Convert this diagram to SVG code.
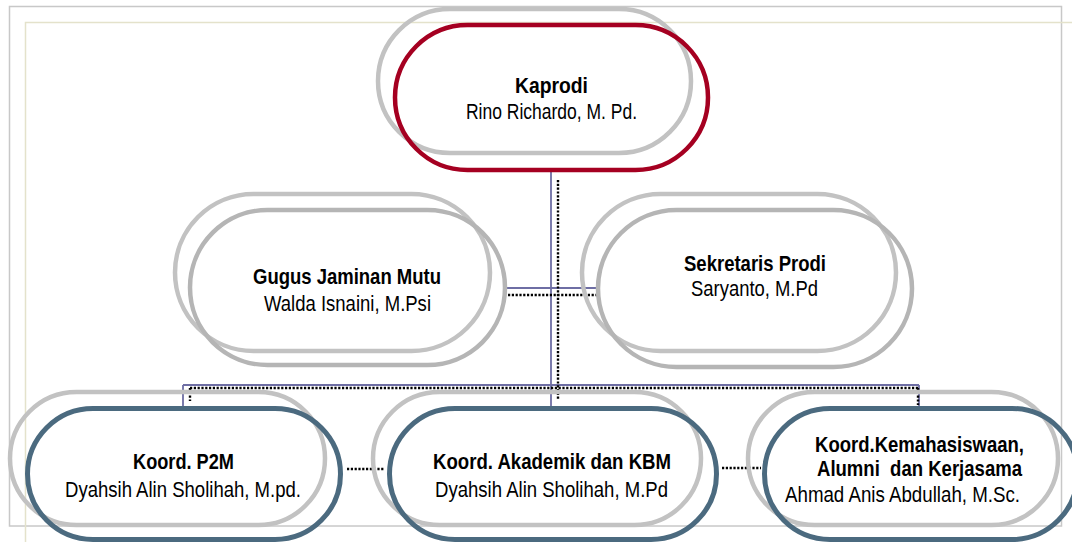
<svg xmlns="http://www.w3.org/2000/svg" width="1072" height="542" viewBox="0 0 1072 542">
<style>
.back{fill:none;stroke:#c2c2c2;stroke-width:4.5}
.mid{fill:none;stroke:#b5b5b5;stroke-width:4.5}
.red{fill:none;stroke:#a50021;stroke-width:4.5}
.blue{fill:none;stroke:#4b6a7f;stroke-width:5}
.sol{fill:none;stroke:#6e6ea4;stroke-width:1.8}
.dot{fill:none;stroke:#000;stroke-width:2.4;stroke-dasharray:2.2 1.6}
text{font-family:"Liberation Sans Narrow","Liberation Sans",Arial,sans-serif;fill:#000}
.b{font-weight:bold;font-size:22px}
.r{font-size:22px}
</style>
<rect width="1072" height="542" fill="#fff"/>
<g id="frame">
<rect x="9.5" y="6.5" width="1052" height="519.5" fill="none" stroke="#c8c8c8" stroke-width="1.5"/>
<path d="M1072 22.5H25.5V542" fill="none" stroke="#e4e2cb" stroke-width="1.5"/>
</g>
<g id="connectors">
<path class="sol" d="M551 172V406M507 288H596M183 385H919M183 385V406M919 385V406"/>
<path class="dot" d="M558 180V399M508 295H599M190 388H918M190 388V401M918 388V405M347 469H384M722 468H761"/>
</g>
<g id="kaprodi">
<rect class="back" x="378" y="9" width="313" height="144" rx="72"/>
<rect class="red" x="395" y="25" width="313" height="145" rx="72.5"/>
<text class="b" x="515" y="93" textLength="73" lengthAdjust="spacingAndGlyphs">Kaprodi</text>
<text class="r" x="466" y="119" textLength="171" lengthAdjust="spacingAndGlyphs">Rino Richardo, M. Pd.</text>
</g>
<g id="gugus">
<rect class="back" x="175" y="194" width="315" height="157" rx="78.5"/>
<rect class="mid" x="190" y="210" width="315" height="155" rx="77.5"/>
<text class="b" x="253" y="284" textLength="188" lengthAdjust="spacingAndGlyphs">Gugus Jaminan Mutu</text>
<text class="r" x="264" y="311" textLength="167" lengthAdjust="spacingAndGlyphs">Walda Isnaini, M.Psi</text>
</g>
<g id="sekretaris">
<rect class="back" x="582" y="194" width="314" height="157" rx="78.5"/>
<rect class="mid" x="598" y="210" width="314" height="157" rx="78.5"/>
<text class="b" x="684" y="271" textLength="142" lengthAdjust="spacingAndGlyphs">Sekretaris Prodi</text>
<text class="r" x="691" y="296" textLength="127" lengthAdjust="spacingAndGlyphs">Saryanto, M.Pd</text>
</g>
<g id="p2m">
<rect class="back" x="10" y="392" width="315" height="133" rx="66.5"/>
<rect class="blue" x="27.5" y="408.5" width="313" height="131" rx="65.5"/>
<text class="b" x="133" y="469" textLength="101" lengthAdjust="spacingAndGlyphs">Koord. P2M</text>
<text class="r" x="65" y="497" textLength="236" lengthAdjust="spacingAndGlyphs">Dyahsih Alin Sholihah, M.pd.</text>
</g>
<g id="akademik">
<rect class="back" x="373" y="392" width="328" height="133" rx="66.5"/>
<rect class="blue" x="389.5" y="408.5" width="327" height="131" rx="65.5"/>
<text class="b" x="433" y="469" textLength="238" lengthAdjust="spacingAndGlyphs">Koord. Akademik dan KBM</text>
<text class="r" x="435" y="497" textLength="233" lengthAdjust="spacingAndGlyphs">Dyahsih Alin Sholihah, M.Pd</text>
</g>
<g id="kemahasiswaan">
<rect class="back" x="748" y="392" width="310" height="133" rx="66.5"/>
<rect class="blue" x="764.5" y="408.5" width="313" height="131" rx="65.5"/>
<text class="b" x="815" y="452" textLength="209" lengthAdjust="spacingAndGlyphs">Koord.Kemahasiswaan,</text>
<text class="b" x="817" y="476" textLength="205" lengthAdjust="spacingAndGlyphs">Alumni&#160; dan Kerjasama</text>
<text class="r" x="785" y="502" textLength="235" lengthAdjust="spacingAndGlyphs">Ahmad Anis Abdullah, M.Sc.</text>
</g>
</svg>
